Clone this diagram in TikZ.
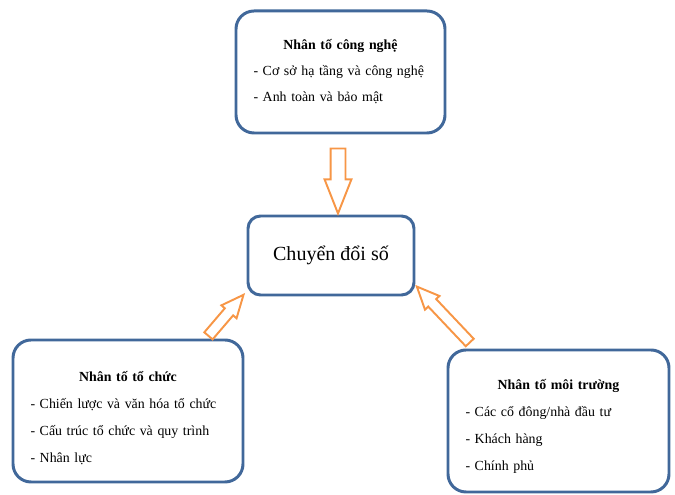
\documentclass[tikz,border=0pt]{standalone}
\usepackage{fontspec}
\setmainfont{Liberation Serif}
\usetikzlibrary{shapes.arrows}
\definecolor{boxblue}{RGB}{65,104,154}
\definecolor{arroworange}{RGB}{247,150,70}
\tikzset{
	factor/.style = {draw = boxblue, line width = 1.7pt, rounded corners = 0.36cm, fill = white, align = left, inner xsep = 0.35cm, font = \fontsize{7.9}{14.8}\selectfont},
	blockarrow/.style = {single arrow, draw = arroworange, line width = 1.1pt, fill = white, inner xsep = 0pt, single arrow head indent = 0pt}
}
\begin{document}
\begin{tikzpicture}
		\useasboundingbox (0,0) rectangle (13.5,9.9);
		\node[factor, text width = 3.48cm, minimum height = 2.44cm] (congnghe) at (6.81,8.46) {\hfill\textbf{Nhân tố công nghệ}\hfill\null\\- Cơ sở hạ tầng và công nghệ\\- Anh toàn và bảo mật};
		\node[factor, rounded corners = 0.25cm, align = center, minimum width = 3.32cm, minimum height = 1.58cm, font = \fontsize{11.4}{13}\selectfont] (cds) at (6.62,4.79) {Chuyển đổi số};
		\node[factor, text width = 3.9cm, minimum height = 2.84cm, text height = 14pt, font = \fontsize{7.9}{15.4}\selectfont] (tochuc) at (2.56,1.68) {\hfill\textbf{Nhân tố tổ chức}\hfill\null\\- Chiến lược và văn hóa tổ chức\\- Cấu trúc tổ chức và quy trình\\- Nhân lực};
		\node[factor, text width = 3.72cm, minimum height = 2.84cm, text height = 11.5pt, font = \fontsize{7.9}{15.4}\selectfont] (moitruong) at (11.17,1.48) {\hfill\textbf{Nhân tố môi trường}\hfill\null\\- Các cổ đông/nhà đầu tư\\- Khách hàng\\- Chính phủ};
		\node[blockarrow, inner ysep = 0.13cm, single arrow head extend = 0.12cm, single arrow tip angle = 43, minimum height = 1.3cm, rotate = -90] (arrcongnghe) at (6.76,6.47) {};
		\node[blockarrow, inner ysep = 0.09cm, single arrow head extend = 0.09cm, single arrow tip angle = 48, minimum height = 1.08cm, rotate = 49.5] (arrtochuc) at (4.44,3.5) {};
		\node[blockarrow, inner ysep = 0.09cm, single arrow head extend = 0.09cm, single arrow tip angle = 48, minimum height = 1.54cm, rotate = 133.4] (arrmoitruong) at (8.95,3.52) {};
		\end{tikzpicture}
\end{document}
